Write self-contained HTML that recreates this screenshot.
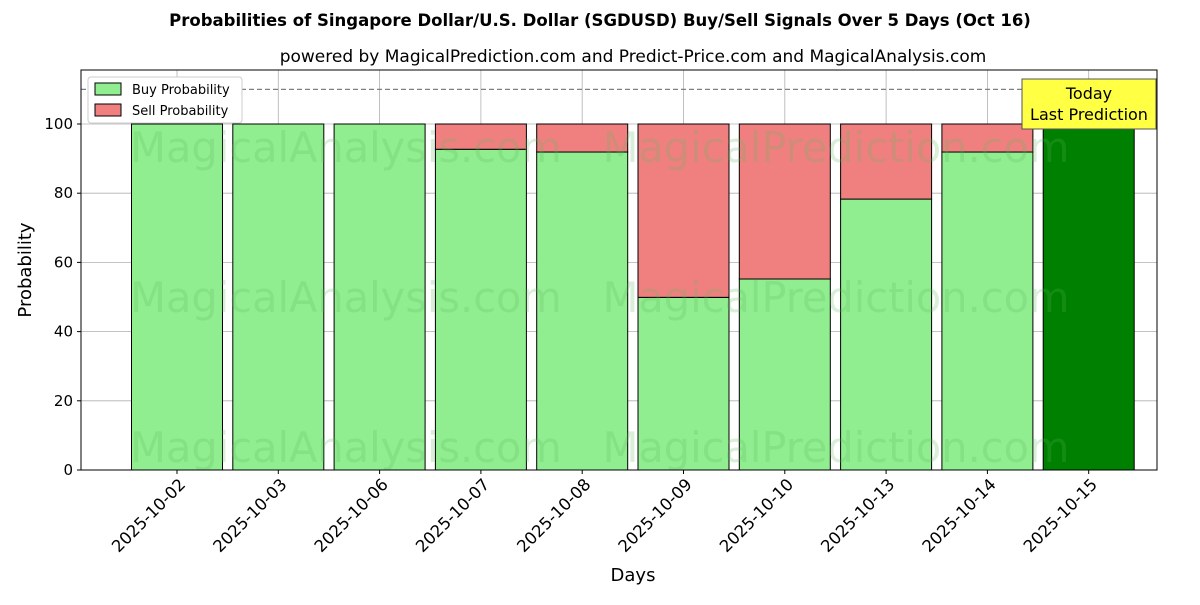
<!DOCTYPE html>
<html><head><meta charset="utf-8"><style>
body{margin:0;background:#fff;}
svg text{font-family:"DejaVu Sans","Liberation Sans",sans-serif;}
</style></head><body>
<svg id="chart" width="1200" height="600" xmlns="http://www.w3.org/2000/svg">
<rect width="1200" height="600" fill="#fff"/>
<text x="600" y="26" text-anchor="middle" font-size="16.5" font-weight="bold">Probabilities of Singapore Dollar/U.S. Dollar (SGDUSD) Buy/Sell Signals Over 5 Days (Oct 16)</text>
<text x="633" y="62" text-anchor="middle" font-size="17">powered by MagicalPrediction.com and Predict-Price.com and MagicalAnalysis.com</text>
<g id="grid"></g>
<g id="bars"></g>
<g id="wm" font-size="41.5" fill="#5cb85c" opacity="0.22">
<text x="346" y="162" text-anchor="middle">MagicalAnalysis.com</text>
<text x="836" y="162" text-anchor="middle">MagicalPrediction.com</text>
<text x="346" y="312" text-anchor="middle">MagicalAnalysis.com</text>
<text x="836" y="312" text-anchor="middle">MagicalPrediction.com</text>
<text x="346" y="462" text-anchor="middle">MagicalAnalysis.com</text>
<text x="836" y="462" text-anchor="middle">MagicalPrediction.com</text>
</g>
<g id="axes"></g>
</svg>
<script>
const categories=["2025-10-02","2025-10-03","2025-10-06","2025-10-07","2025-10-08","2025-10-09","2025-10-10","2025-10-13","2025-10-14","2025-10-15"];
const buyValues=[100,100,100,92.7,91.9,49.9,55.2,78.3,91.9,100];
const sellValues=[0,0,0,7.3,8.1,50.1,44.8,21.7,8.1,0];
const yTicks=[0,20,40,60,80,100];
const NS="http://www.w3.org/2000/svg";
const L=81,R=1157,T=70,B=470;
const x=i=>177+(i)*101.3;
const y=v=>B-v*3.46;
const bw=91;
function mk(tag,attrs,parent){const e=document.createElementNS(NS,tag);for(const k in attrs)e.setAttribute(k,attrs[k]);parent.appendChild(e);return e;}
const grid=document.getElementById('grid'),bars=document.getElementById('bars'),axes=document.getElementById('axes');
yTicks.forEach(t=>{
 const g=mk('line',{x1:L,x2:R,y1:y(t),y2:y(t),stroke:'#b0b0b0','stroke-width':0.8},grid);
 
 mk('line',{x1:L-4,x2:L,y1:y(t),y2:y(t),stroke:'#000'},axes);
 const tx=mk('text',{x:L-8,y:y(t)+5,'text-anchor':'end','font-size':15},axes);tx.textContent=t;
 
});
categories.forEach((c,i)=>{
 const g=mk('line',{x1:x(i),x2:x(i),y1:T,y2:B,stroke:'#b0b0b0','stroke-width':0.8},grid);
 
 const last=i===categories.length-1;
 const b=mk('rect',{x:x(i)-bw/2,y:y(buyValues[i]),width:bw,height:y(0)-y(buyValues[i]),fill:last?'#008000':'#90ee90',stroke:'#000','stroke-width':1},bars);
 
 if(sellValues[i]>0){
  const s=mk('rect',{x:x(i)-bw/2,y:y(buyValues[i]+sellValues[i]),width:bw,height:y(buyValues[i])-y(buyValues[i]+sellValues[i]),fill:'#f08080',stroke:'#000','stroke-width':1},bars);
  
 }
 mk('line',{x1:x(i),x2:x(i),y1:B,y2:B+4,stroke:'#000'},axes);
 const px=x(i)+1, py=B+7;
 const tx=mk('text',{x:px,y:py,'text-anchor':'end','font-size':16.5,'dominant-baseline':'hanging',transform:`rotate(-45 ${px} ${py})`},axes);tx.textContent=c;
 
});
const d=mk('line',{x1:L,x2:R,y1:y(110),y2:y(110),stroke:'#808080','stroke-width':1.2,'stroke-dasharray':'5,3'},axes);

const fr=mk('rect',{x:L,y:T,width:R-L,height:B-T,fill:'none',stroke:'#000','stroke-width':1},axes);

const yl=mk('text',{x:31,y:270,'text-anchor':'middle','font-size':18,transform:'rotate(-90 31 270)'},axes);yl.textContent='Probability';

const xl=mk('text',{x:633,y:581,'text-anchor':'middle','font-size':18},axes);xl.textContent='Days';

const ab=mk('rect',{x:1022,y:79,width:134,height:50,fill:'#ffff44',stroke:'#555','stroke-width':1},axes);

const a1=mk('text',{x:1089,y:99,'text-anchor':'middle','font-size':16},axes);a1.textContent='Today';

const a2=mk('text',{x:1089,y:120,'text-anchor':'middle','font-size':16},axes);a2.textContent='Last Prediction';

const lg=mk('g',{},axes);
mk('rect',{x:88,y:77,width:154,height:46,fill:'#fff',stroke:'#ccc',rx:3},lg);
mk('rect',{x:95,y:83,width:26,height:12,fill:'#90ee90',stroke:'#000'},lg);
const l1=mk('text',{x:132,y:94,'font-size':13},lg);l1.textContent='Buy Probability';

mk('rect',{x:95,y:104,width:26,height:12,fill:'#f08080',stroke:'#000'},lg);
const l2=mk('text',{x:132,y:115,'font-size':13},lg);l2.textContent='Sell Probability';

</script>
</body></html>
